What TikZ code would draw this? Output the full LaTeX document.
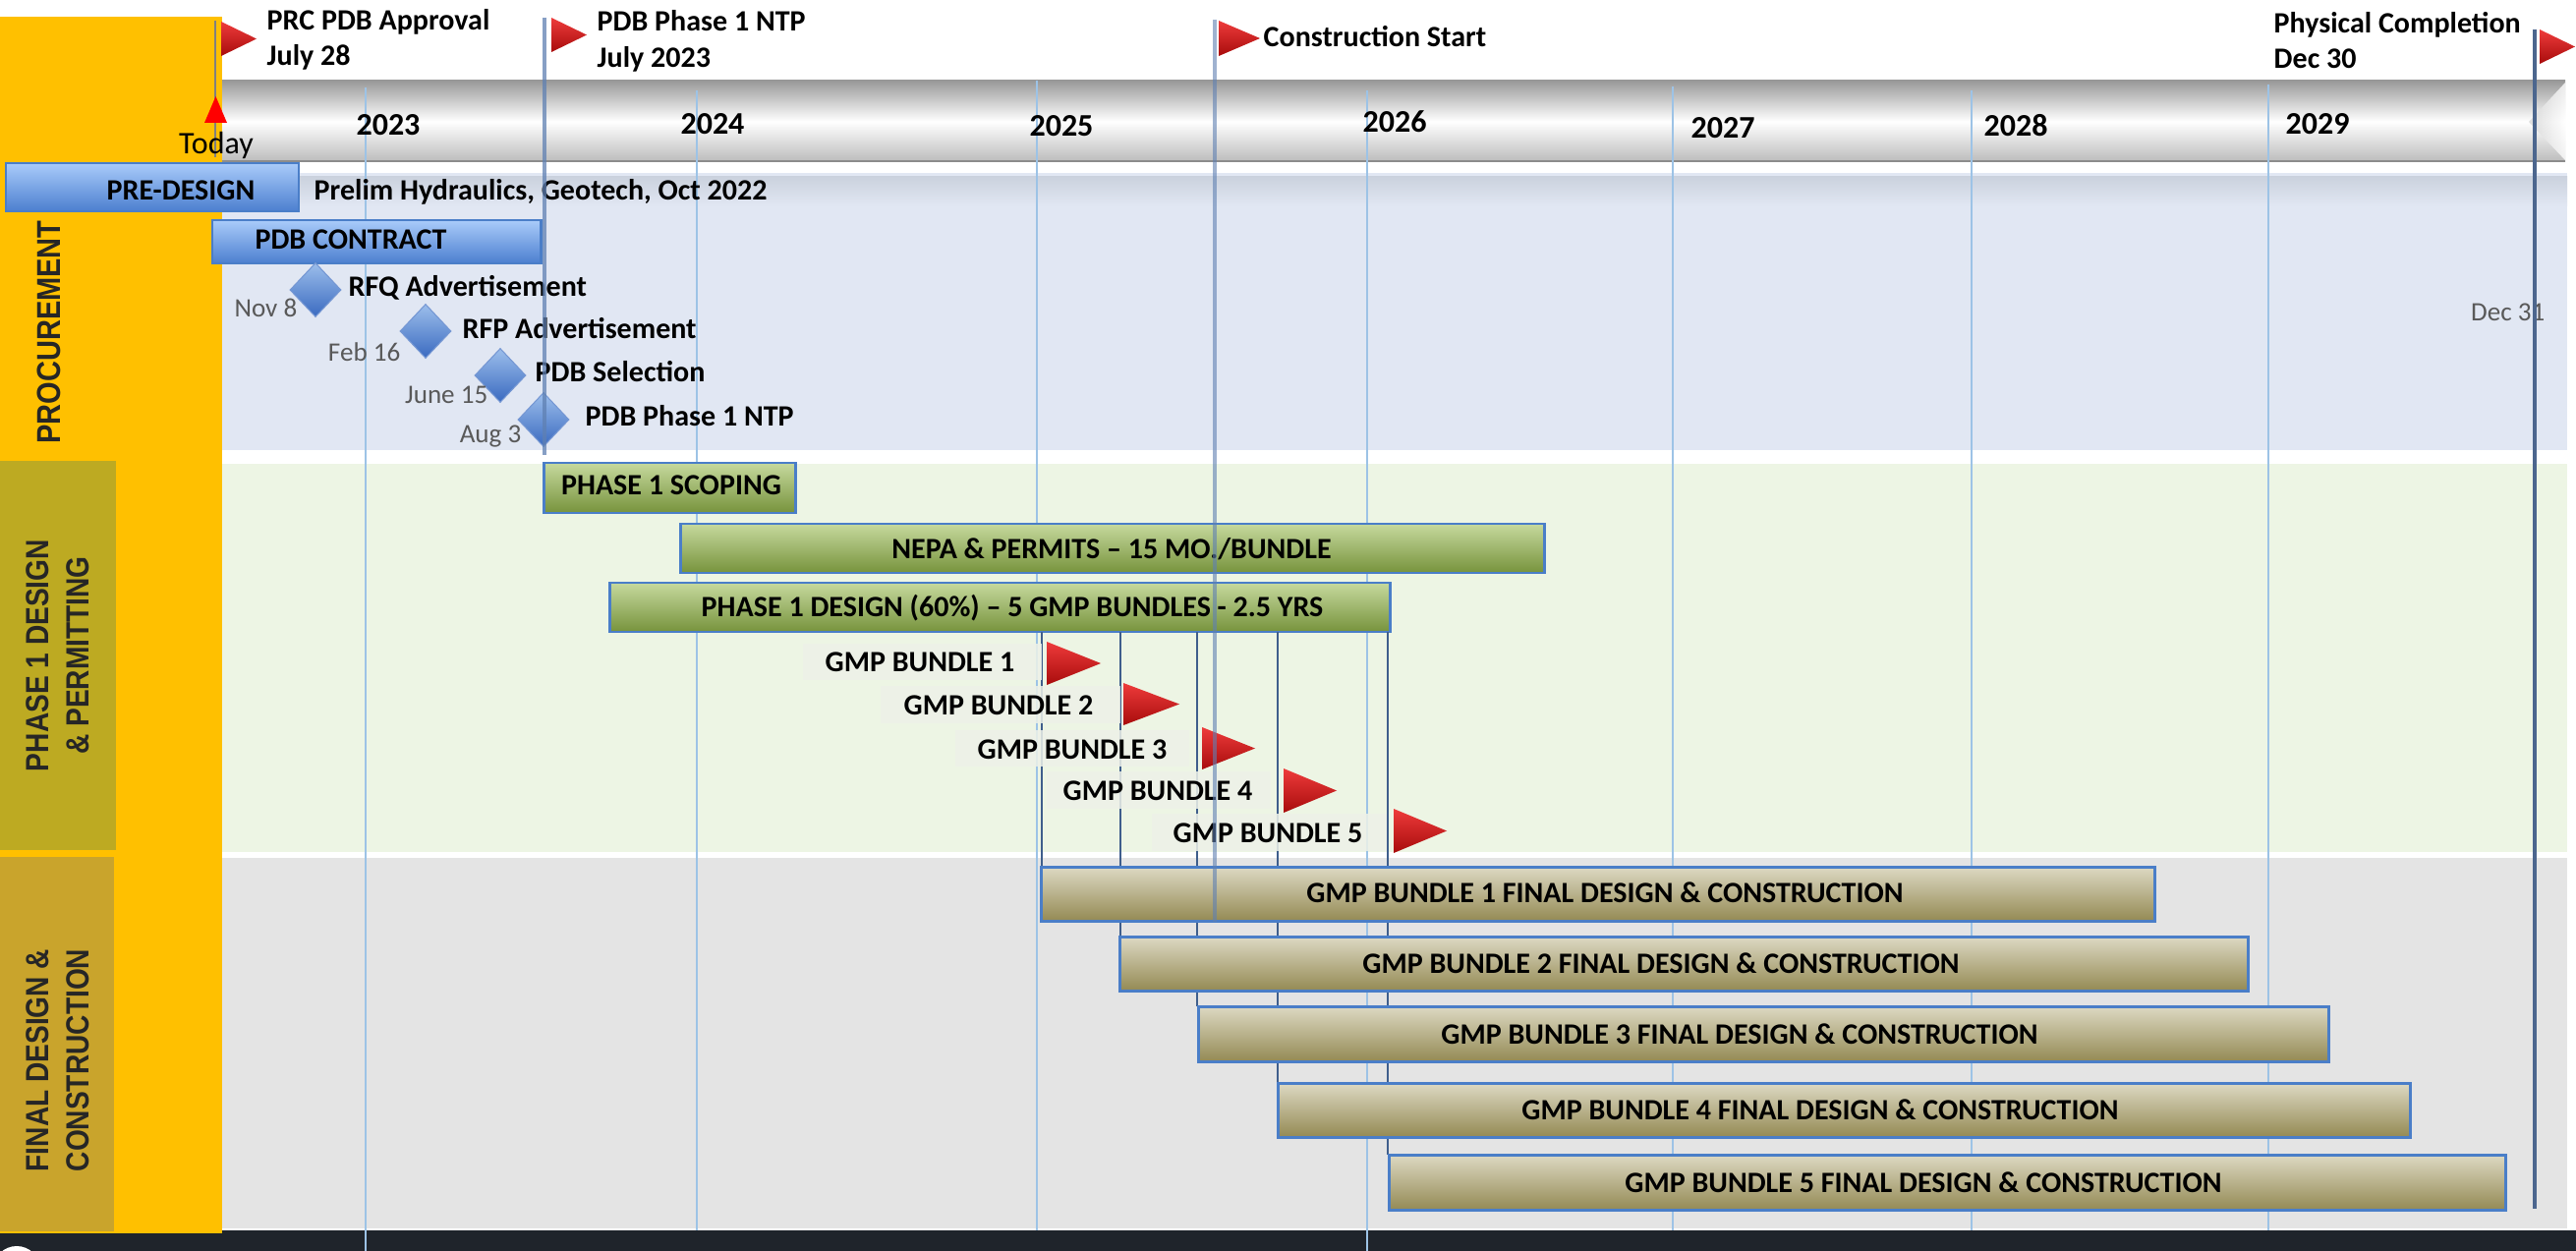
\documentclass[tikz,border=0pt]{standalone}
\usepackage{fontspec}
\setmainfont{Carlito}
\newfontfamily\labfont[FakeStretch=0.86]{Liberation Sans}
\usetikzlibrary{shapes.geometric}
\definecolor{yellowcol}{HTML}{FFC000}
\definecolor{phbox}{HTML}{BDAA22}
\definecolor{fdbox}{HTML}{C9A42C}
\definecolor{procband}{HTML}{E1E7F3}
\definecolor{procdark}{HTML}{CBD2DE}
\definecolor{greenband}{HTML}{EDF5E4}
\definecolor{grayband}{HTML}{E4E4E4}
\definecolor{darkstrip}{HTML}{1F242B}
\definecolor{hdrtop}{HTML}{999999}
\definecolor{hdrbot}{HTML}{BBBBBB}
\definecolor{hdrline}{HTML}{8C8C8C}
\definecolor{gridblue}{HTML}{9DC3E6}
\definecolor{milestone}{HTML}{5F80B2}
\definecolor{bundleline}{HTML}{3F5E8C}
\definecolor{barborder}{HTML}{4A7EC8}
\definecolor{bluetop}{HTML}{A9CBFA}
\definecolor{bluebot}{HTML}{4C7FCF}
\definecolor{greentop}{HTML}{C6D99E}
\definecolor{greenbot}{HTML}{77933C}
\definecolor{tantop}{HTML}{DDD9C3}
\definecolor{tanbot}{HTML}{948A54}
\definecolor{flagtop}{HTML}{EE3B3B}
\definecolor{flagbot}{HTML}{A80C0C}
\definecolor{diatop}{HTML}{9CBEEB}
\definecolor{diabot}{HTML}{3A6AC0}
\definecolor{dategray}{HTML}{595959}
\definecolor{labbox}{HTML}{EEF1E8}
\definecolor{labtext}{HTML}{262626}
\newcommand\fbold{\fontsize{8.54pt}{10pt}\selectfont\bfseries}
\newcommand\fyear{\fontsize{9.1pt}{11pt}\selectfont\bfseries}
\newcommand\fdate{\fontsize{7.7pt}{9pt}\selectfont}
\newcommand\ftoday{\fontsize{9.1pt}{11pt}\selectfont}
\newcommand\fsect{\labfont\bfseries\fontsize{9.3pt}{11.7pt}\selectfont}
\newcommand\fproc{\labfont\bfseries\fontsize{9.6pt}{11pt}\selectfont}
\tikzset{
  txt/.style={inner sep=0pt, font=\fbold, text=black},
  yr/.style={inner sep=0pt, font=\fyear, text=black, anchor=base},
  datetxt/.style={inner sep=0pt, font=\fdate, text=dategray, anchor=base east},
  sect/.style={inner sep=0pt, font=\fsect, text=labtext, rotate=90, align=center},
  gridln/.style={gridblue, line width=0.6pt},
  mline/.style={milestone, line width=1.1pt},
  bline/.style={bundleline, line width=0.75pt},
  bluebar/.style={draw=barborder, line width=0.85pt, top color=bluetop, bottom color=bluebot},
  greenbar/.style={draw=barborder, line width=0.85pt, top color=greentop, bottom color=greenbot},
  tanbar/.style={draw=barborder, line width=0.85pt, top color=tantop, bottom color=tanbot},
  flagshade/.style={top color=flagtop, bottom color=flagbot},
  diam/.style={diamond, inner sep=0pt, minimum width=0.52cm, minimum height=0.55cm, top color=diatop, bottom color=diabot, draw=diabot!70!white, line width=0.3pt},
  lbox/.style={fill=labbox, fill opacity=0.85, draw=none},
}
\newcommand\redflag[4]{\shade[flagshade] (#1,#2) -- (#1,#3) -- (#4,{(#2+#3)/2}) -- cycle;}
\begin{document}
\begin{tikzpicture}[x=0.01cm,y=-0.01cm]
\useasboundingbox (0,0) rectangle (2621,1273);
\fill[white] (0,0) rectangle (2621,1273);
% ---- bands
\fill[procband] (226,176) rectangle (2612,458);
\shade[top color=procdark, bottom color=procband] (226,180) rectangle (2612,210);
\fill[greenband] (226,472) rectangle (2612,867);
\fill[grayband] (226,873) rectangle (2612,1250);
\fill[darkstrip] (0,1252) rectangle (2621,1273);
\begin{scope}
\clip (0,1252) rectangle (60,1273);
\fill[white] (17,1292) circle (24);
\end{scope}
% ---- left column
\fill[yellowcol] (0,17) rectangle (226,1255);
\fill[phbox] (0,469) rectangle (118,865);
\fill[fdbox] (0,872) rectangle (116,1253);
\node[inner sep=0pt, font=\fproc, text=labtext, rotate=90] (lproc) at (50,338) {PROCUREMENT};
\node[sect] (lph1) at (59,667) {PHASE 1 DESIGN\\\& PERMITTING};
\node[sect] (lfin) at (59,1079) {FINAL DESIGN \&\\CONSTRUCTION};
% ---- header bar
\shade[top color=hdrtop, bottom color=hdrbot, middle color=white] (226,82) rectangle (2610,165);
\shade[left color=hdrbot!60!white, right color=white, opacity=0.8] (2610,84) -- (2573,124) -- (2610,163) -- cycle;
\draw[hdrline, line width=0.8pt] (226,164) -- (2610,164);
% ---- year grid lines
\draw[gridln] (372,89) -- (372,1273);
\draw[gridln] (709,92) -- (709,1252);
\draw[gridln] (1055,82) -- (1055,1252);
\draw[gridln] (1391,92) -- (1391,1273);
\draw[gridln] (1702,88) -- (1702,1252);
\draw[gridln] (2006,92) -- (2006,1252);
\draw[gridln] (2308,86) -- (2308,1252);
% ---- years
\node[yr] (y23) at (395,138) {2023};
\node[yr] (y24) at (725,137) {2024};
\node[yr] (y25) at (1080,139) {2025};
\node[yr] (y26) at (1419,135) {2026};
\node[yr] (y27) at (1753,141) {2027};
\node[yr] (y28) at (2051,139) {2028};
\node[yr] (y29) at (2358,137) {2029};
% ---- today
\draw[gray, line width=0.6pt] (219,21) -- (219,160);
\fill[red] (208,125) -- (231,125) -- (219.5,98) -- cycle;
\node[inner sep=0pt, font=\ftoday, anchor=base] (today) at (220,157) {Today};
% ---- procurement bars
\path[bluebar] (6,166) rectangle (304,215);
\node[txt, anchor=base] (predesign) at (184,204) {PRE-DESIGN};
\node[txt, anchor=base west] (prelim) at (319,204) {Prelim Hydraulics, Geotech, Oct 2022};
\path[bluebar] (216,224) rectangle (550,268);
\node[txt, anchor=base] (pdbc) at (357,253) {PDB CONTRACT};
% ---- diamonds
\node[diam] (d1) at (321,295) {};
\node[diam] (d2) at (433,337) {};
\node[diam] (d3) at (509,382) {};
\node[diam] (d4) at (553,427) {};
\node[txt, anchor=base west] (t1) at (354,301) {RFQ Advertisement};
\node[txt, anchor=base west] (t2) at (470,344) {RFP Advertisement};
\node[txt, anchor=base west] (t3) at (544,388) {PDB Selection};
\node[txt, anchor=base west] (t4) at (595,433) {PDB Phase 1 NTP};
\node[datetxt] (dt1) at (303,322) {Nov 8};
\node[datetxt] (dt2) at (408,367) {Feb 16};
\node[datetxt] (dt3) at (497,410) {June 15};
\node[datetxt] (dt4) at (531,450) {Aug 3};
\node[datetxt] (dt5) at (2590,327) {Dec 31};
% ---- phase 1 bars
\path[greenbar] (553,471) rectangle (809,522);
\node[txt, anchor=base] (scoping) at (683,503) {PHASE 1 SCOPING};
\path[greenbar] (692,533) rectangle (1571,583);
\node[txt, anchor=base] (nepa) at (1131,568) {NEPA \& PERMITS – 15 MO./BUNDLE};
\path[greenbar] (620,593) rectangle (1414,643);
\node[txt, anchor=base] (design) at (1030,627) {PHASE 1 DESIGN (60\%) – 5 GMP BUNDLES - 2.5 YRS};
% ---- bundle lines
\draw[bline] (1060,643) -- (1060,882);
\draw[bline] (1140,643) -- (1140,953);
\draw[bline] (1218,643) -- (1218,1024);
\draw[bline] (1300,643) -- (1300,1102);
\draw[bline] (1412,643) -- (1412,1175);
% ---- bundle labels and flags
\path[lbox] (817,655) rectangle (1060,692);
\path[lbox] (896,698) rectangle (1140,736);
\path[lbox] (972,743) rectangle (1210,780);
\path[lbox] (1065,785) rectangle (1293,823);
\path[lbox] (1172,828) rectangle (1411,866);
\node[txt, anchor=base] (g1) at (936,683) {GMP BUNDLE 1};
\node[txt, anchor=base] (g2) at (1016,727) {GMP BUNDLE 2};
\node[txt, anchor=base] (g3) at (1091,772) {GMP BUNDLE 3};
\node[txt, anchor=base] (g4) at (1178,814) {GMP BUNDLE 4};
\node[txt, anchor=base] (g5) at (1290,857) {GMP BUNDLE 5};
\redflag{1065}{653}{697}{1120}
\redflag{1143}{695}{738}{1200}
\redflag{1223}{740}{783}{1277}
\redflag{1306}{782}{827}{1360}
\redflag{1418}{823}{868}{1472}
% ---- final design bars
\path[tanbar] (1059,882) rectangle (2192,937);
\node[txt, anchor=base] (f1) at (1633,918) {GMP BUNDLE 1 FINAL DESIGN \& CONSTRUCTION};
\path[tanbar] (1139,953) rectangle (2287,1008);
\node[txt, anchor=base] (f2) at (1690,990) {GMP BUNDLE 2 FINAL DESIGN \& CONSTRUCTION};
\path[tanbar] (1219,1024) rectangle (2369,1080);
\node[txt, anchor=base] (f3) at (1770,1062) {GMP BUNDLE 3 FINAL DESIGN \& CONSTRUCTION};
\path[tanbar] (1300,1102) rectangle (2452,1157);
\node[txt, anchor=base] (f4) at (1852,1139) {GMP BUNDLE 4 FINAL DESIGN \& CONSTRUCTION};
\path[tanbar] (1413,1175) rectangle (2549,1231);
\node[txt, anchor=base] (f5) at (1957,1213) {GMP BUNDLE 5 FINAL DESIGN \& CONSTRUCTION};
% ---- milestone lines
\draw[mline, opacity=0.75] (554,18) -- (554,463);
\draw[mline, opacity=0.6] (1236,20) -- (1236,938);
\draw[mline, color=milestone!80!black] (2579,30) -- (2579,1230);
% ---- top milestones
\redflag{225}{22}{57}{261}
\node[txt, anchor=base west] (m1a) at (271,31) {PRC PDB Approval};
\node[txt, anchor=base west] (m1b) at (271,67) {July 28};
\redflag{561}{18}{53}{597}
\node[txt, anchor=base west] (m2a) at (607,32) {PDB Phase 1 NTP};
\node[txt, anchor=base west] (m2b) at (607,69) {July 2023};
\redflag{1240}{21}{57}{1282}
\node[txt, anchor=base west] (m3) at (1285,48) {Construction Start};
\redflag{2584}{30}{65}{2620}
\node[txt, anchor=base west] (m4a) at (2313,34) {Physical Completion};
\node[txt, anchor=base west] (m4b) at (2313,70) {Dec 30};
\end{tikzpicture}
\end{document}
